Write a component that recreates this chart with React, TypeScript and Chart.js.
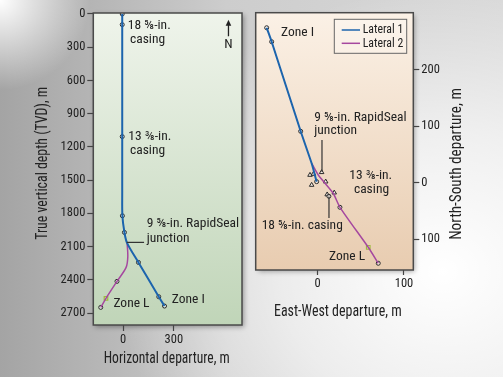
import React, { useEffect, useRef } from "react";
import { Chart, registerables } from "chart.js";

Chart.register(...registerables);

const FONT = "'Roboto Condensed', 'Liberation Sans Narrow', 'Arial Narrow', 'DejaVu Sans Condensed', sans-serif";
const TEXT = "#222222";
const BLUE = "#1c64ad";
const MAGENTA = "#a5489f";
const GREEN = "#9dbb3c";

// ---------- Vertical section (left) ----------
const vsDepthTicks = [0, 300, 600, 900, 1200, 1500, 1800, 2100, 2400, 2700];
const vsDepartureTicks = [0, 300];
// [horizontal departure m, TVD m]
const vsLateral1 = [[-5, 0], [-5, 96], [-5, 1107], [-5, 1600], [-4, 1822], [8, 1972], [24, 2069], [91, 2243], [211, 2553], [245, 2637]];
const vsLateral2 = [[24, 2069], [28, 2192], [18, 2288], [-36, 2414], [-101, 2567], [-132, 2649]];
const vsSurveyMarks = [[-5, 0], [-5, 96], [-5, 1107], [-4, 1822], [8, 1972], [91, 2243], [211, 2553], [245, 2637], [-36, 2414], [-132, 2649]];
const vsZoneMarks = [[-101, 2567]];
const vsLabels = [
  { text: "18 \u215D-in.", x: 28, y: 102 },
  { text: "casing", x: 41, y: 228 },
  { text: "13 \u215C-in.", x: 31, y: 1110 },
  { text: "casing", x: 41, y: 1236 },
  { text: "9 \u215D-in. RapidSeal", x: 140, y: 1897 },
  { text: "junction", x: 140, y: 2026 },
  { text: "Zone L", x: -57, y: 2619 },
  { text: "Zone I", x: 288, y: 2583 },
];
const vsLeader = [[22, 2062], [124, 2062]];
const vsNorth = { x: 623, tip: 51, tail: 201, label: 274 };

// ---------- Plan view (right) ----------
const pvEastTicks = [0, 100];
const pvNorthTicks = [-100, 0, 100, 200];
// [east-west m, north-south m]
const pvLateral1 = [[-59.1, 274], [-53.3, 249.3], [-19.7, 90.9], [-7, 34.3], [-1.2, 1.8]];
const pvLateral2 = [[-7, 34.3], [0.7, 13.6], [18, -18.7], [25.8, -43.5], [58.6, -114.2], [70.2, -142.5]];
const pvSurveyMarks = [[-59.1, 274], [-53.3, 249.3], [-19.7, 90.9], [-1.2, 1.8], [25.8, -43.5], [70.2, -142.5], [13, -24]];
const pvZoneMarks = [[58.6, -114.2]];
const pvCasingMarks = [[-8.9, 13.6], [-4.9, 15.4], [4.6, 18.4], [9.3, 1.8], [-7, -4.1], [19.2, -17.7], [11, -21]];
const pvLabels = [
  { text: "Zone I", x: -42.5, y: 266 },
  { text: "9 \u215D-in. RapidSeal", x: -3.9, y: 115.6 },
  { text: "junction", x: -3.9, y: 91.4 },
  { text: "13 \u215C-in.", x: 36.6, y: 11.8 },
  { text: "casing", x: 42, y: -12.9 },
  { text: "18 \u215D-in. casing", x: -64.9, y: -76.6 },
  { text: "Zone L", x: 13.1, y: -130.9 },
];
const pvLeaders = [
  [[5, 75.5], [5, 19.5]],
  [[13.1, -24.8], [13.1, -62.4]],
];
const legendItems = [
  { text: "Lateral 1", color: BLUE },
  { text: "Lateral 2", color: MAGENTA },
];

const xy = (a: number[][]) => a.map(([x, y]) => ({ x, y }));

function drawText(ctx: any, text: string, x: number, y: number, size: number, align: string, opts: any = {}) {
  ctx.save();
  ctx.translate(x, y);
  if (opts.rot) ctx.rotate(opts.rot);
  ctx.font = `${size}px ${FONT}`;
  let sx = opts.sx || 1;
  if (opts.width) sx = opts.width / ctx.measureText(text).width;
  ctx.scale(sx, 1);
  ctx.textAlign = align;
  ctx.textBaseline = "middle";
  ctx.fillStyle = TEXT;
  ctx.fillText(text, 0, 0);
  ctx.restore();
}

function panelPlugin(cfg: any) {
  return {
    id: "panel" + cfg.name,
    beforeDraw(chart: any) {
      const { ctx, chartArea: a } = chart;
      ctx.save();
      const g = ctx.createLinearGradient(0, a.top, 0, a.bottom);
      g.addColorStop(0, cfg.top);
      g.addColorStop(1, cfg.bottom);
      ctx.shadowColor = "rgba(0,0,0,0.35)";
      ctx.shadowBlur = 5;
      ctx.shadowOffsetX = 2;
      ctx.shadowOffsetY = 2;
      ctx.fillStyle = g;
      ctx.fillRect(a.left, a.top, a.right - a.left, a.bottom - a.top);
      ctx.restore();
    },
    afterDraw(chart: any) {
      const { ctx, chartArea: a, scales } = chart;
      const sx = scales.x, sy = scales.y;
      ctx.save();
      ctx.strokeStyle = "#4a4a4a";
      ctx.lineWidth = 1.5;
      ctx.strokeRect(a.left, a.top, a.right - a.left, a.bottom - a.top);
      cfg.labels.forEach((l: any) => {
        drawText(ctx, l.text, sx.getPixelForValue(l.x), sy.getPixelForValue(l.y), 13.5, "left");
      });
      ctx.strokeStyle = "#333";
      ctx.lineWidth = 1.2;
      cfg.leaders.forEach((ln: number[][]) => {
        ctx.beginPath();
        ctx.moveTo(sx.getPixelForValue(ln[0][0]), sy.getPixelForValue(ln[0][1]));
        ctx.lineTo(sx.getPixelForValue(ln[1][0]), sy.getPixelForValue(ln[1][1]));
        ctx.stroke();
      });
      // axis titles
      drawText(ctx, cfg.yTitle.text, cfg.yTitle.x, cfg.yTitle.y, 16, "center", { rot: -Math.PI / 2, width: cfg.yTitle.w });
      drawText(ctx, cfg.xTitle.text, cfg.xTitle.x, cfg.xTitle.y, 16, "center", { width: cfg.xTitle.w });
      if (cfg.north) {
        const n = cfg.north;
        const px = sx.getPixelForValue(n.x);
        const tip = sy.getPixelForValue(n.tip);
        const tail = sy.getPixelForValue(n.tail);
        ctx.strokeStyle = "#222";
        ctx.fillStyle = "#222";
        ctx.lineWidth = 1.3;
        ctx.beginPath();
        ctx.moveTo(px, tail);
        ctx.lineTo(px, tip + 4);
        ctx.stroke();
        ctx.beginPath();
        ctx.moveTo(px, tip);
        ctx.lineTo(px - 2.8, tip + 6);
        ctx.lineTo(px + 2.8, tip + 6);
        ctx.closePath();
        ctx.fill();
        drawText(ctx, "N", px, sy.getPixelForValue(n.label), 13.5, "center");
      }
      if (cfg.legend) {
        const bx = a.right - 79, by = a.top + 6.6, bw = 72.4, bh = 34;
        ctx.fillStyle = "rgba(255,255,255,0.25)";
        ctx.fillRect(bx, by, bw, bh);
        ctx.strokeStyle = "#666";
        ctx.lineWidth = 1;
        ctx.strokeRect(bx, by, bw, bh);
        legendItems.forEach((it, i) => {
          const yy = by + 10.7 + i * 13.3;
          ctx.strokeStyle = it.color;
          ctx.lineWidth = 1.5;
          ctx.beginPath();
          ctx.moveTo(bx + 7.4, yy);
          ctx.lineTo(bx + 25.7, yy);
          ctx.stroke();
          drawText(ctx, it.text, bx + 28.4, yy, 13, "left", { width: 40.5 });
        });
      }
      ctx.restore();
    },
  };
}

const tickFont = { family: FONT, size: 12.5 };

function axisCommon(ticks: number[], tickLength: number, pad: number, cb?: (v: number) => string) {
  return {
    type: "linear" as const,
    afterBuildTicks: (s: any) => {
      s.ticks = ticks.map((v) => ({ value: v }));
    },
    grid: { display: true, drawOnChartArea: false, drawTicks: true, tickLength, tickColor: "#444", tickWidth: 1.2 },
    border: { display: false },
    ticks: {
      font: tickFont,
      color: TEXT,
      padding: pad,
      maxRotation: 0,
      autoSkip: false,
      callback: cb ? (v: any) => cb(Number(v)) : (v: any) => String(v),
    },
  };
}

function markerSets(marks: number[][], zones: number[][]) {
  return [
    {
      data: xy(marks),
      showLine: false,
      pointRadius: 2,
      pointBorderWidth: 1,
      pointBorderColor: "#2a2a2a",
      pointBackgroundColor: "rgba(255,255,255,0.5)",
    },
    {
      data: xy(zones),
      showLine: false,
      pointStyle: "rect",
      pointRadius: 2.5,
      pointBorderWidth: 1.2,
      pointBorderColor: GREEN,
      pointBackgroundColor: "rgba(255,255,255,0.3)",
    },
  ];
}

export default function App() {
  const leftRef = useRef<HTMLCanvasElement>(null);
  const rightRef = useRef<HTMLCanvasElement>(null);

  useEffect(() => {
    const left = new Chart(leftRef.current!, {
      type: "scatter",
      data: {
        datasets: [
          { label: "Lateral 1", data: xy(vsLateral1), showLine: true, borderColor: BLUE, borderWidth: 2, pointRadius: 0, tension: 0.3 },
          { label: "Lateral 2", data: xy(vsLateral2), showLine: true, borderColor: MAGENTA, borderWidth: 1.5, pointRadius: 0, tension: 0.3 },
          ...markerSets(vsSurveyMarks, vsZoneMarks),
        ] as any,
      },
      options: {
        animation: false,
        responsive: false,
        maintainAspectRatio: false,
        layout: { padding: { top: 13, right: 18, left: 0, bottom: 0 } },
        plugins: { legend: { display: false }, tooltip: { enabled: false } },
        scales: {
          x: {
            ...axisCommon(vsDepartureTicks, 6, 1),
            min: -176,
            max: 703,
            afterFit: (s: any) => { s.height = 52; },
          },
          y: {
            ...axisCommon(vsDepthTicks, 6, 2),
            reverse: true,
            min: -9,
            max: 2808,
            afterFit: (s: any) => { s.width = 93.3; },
          },
        } as any,
      },
      plugins: [
        panelPlugin({
          name: "L",
          top: "#eff4eb",
          bottom: "#c0d5b8",
          labels: vsLabels,
          leaders: [vsLeader],
          north: vsNorth,
          yTitle: { text: "True vertical depth (TVD), m", x: 43.3, y: 163.3, w: 153 },
          xTitle: { text: "Horizontal departure, m", x: 166.7, y: 359, w: 126 },
        }),
      ],
    });

    const right = new Chart(rightRef.current!, {
      type: "scatter",
      data: {
        datasets: [
          { label: "Lateral 1", data: xy(pvLateral1), showLine: true, borderColor: BLUE, borderWidth: 2, pointRadius: 0, tension: 0.2 },
          { label: "Lateral 2", data: xy(pvLateral2), showLine: true, borderColor: MAGENTA, borderWidth: 1.5, pointRadius: 0, tension: 0.2 },
          ...markerSets(pvSurveyMarks, pvZoneMarks),
          {
            data: xy(pvCasingMarks),
            showLine: false,
            pointStyle: "triangle",
            pointRadius: 2.6,
            pointBorderWidth: 1,
            pointBorderColor: "#2a2a2a",
            pointBackgroundColor: "rgba(255,255,255,0.6)",
          },
        ] as any,
      },
      options: {
        animation: false,
        responsive: false,
        maintainAspectRatio: false,
        layout: { padding: { top: 12.7, right: 0, left: 5.7, bottom: 0 } },
        plugins: { legend: { display: false }, tooltip: { enabled: false } },
        scales: {
          x: {
            ...axisCommon(pvEastTicks, 5, 1),
            min: -71.8,
            max: 110.8,
            afterFit: (s: any) => { s.height = 107; },
          },
          y: {
            ...axisCommon(pvNorthTicks, 6, 2, (v) => String(Math.abs(v))),
            position: "right",
            min: -154.4,
            max: 300.6,
            afterFit: (s: any) => { s.width = 89.7; },
          },
        } as any,
      },
      plugins: [
        panelPlugin({
          name: "R",
          top: "#fbf1e6",
          bottom: "#e8ccb0",
          labels: pvLabels,
          leaders: pvLeaders,
          legend: true,
          yTitle: { text: "North-South departure, m", x: 206.7, y: 164, w: 151.7 },
          xTitle: { text: "East-West departure, m", x: 87.8, y: 311.7, w: 127.7 },
        }),
      ],
    });

    return () => {
      left.destroy();
      right.destroy();
    };
  }, []);

  return (
    <div
      style={{
        position: "absolute",
        left: 0,
        top: 0,
        width: 503,
        height: 377,
        overflow: "hidden",
        background:
          "radial-gradient(circle at 0% 0%, rgba(255,255,255,1) 0px, rgba(255,255,255,0) 90px), radial-gradient(ellipse 65% 75% at 88% 72%, #ffffff 0%, rgba(255,255,255,0.6) 50%, rgba(255,255,255,0) 100%), linear-gradient(to right, #a4a4a4 0%, #cdcdcd 45%, #d9d9d9 100%)",
      }}
    >
      <canvas ref={leftRef} width={260} height={377} style={{ position: "absolute", left: 0, top: 0, width: 260, height: 377 }} />
      <canvas ref={rightRef} width={253} height={377} style={{ position: "absolute", left: 250, top: 0, width: 253, height: 377 }} />
    </div>
  );
}
